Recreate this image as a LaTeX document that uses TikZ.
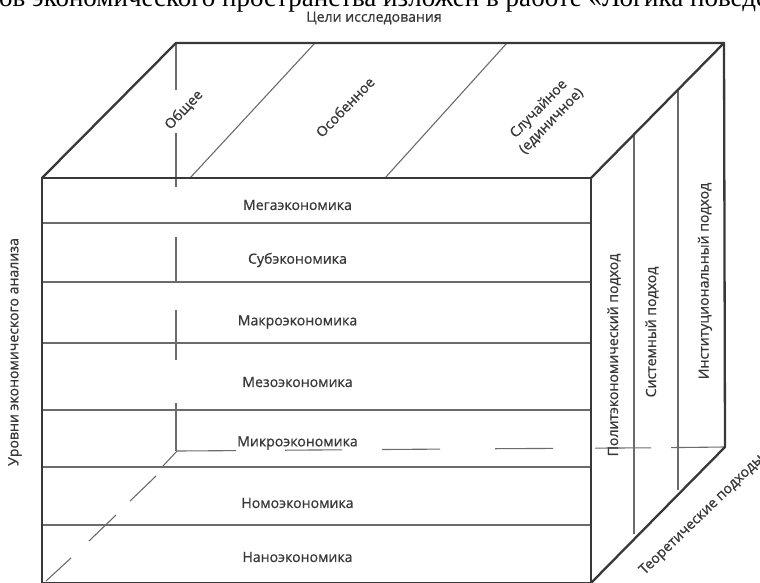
\documentclass[tikz,border=0pt]{standalone}
\usepackage{fontspec}
\setmainfont{Open Sans}
\newfontfamily\labfont[FakeBold=0.8]{Open Sans}
\newfontfamily\serifcut{Liberation Serif}
\begin{document}
\begin{tikzpicture}[x=1pt,y=-1pt,
  edgeline/.style={line width=2.3pt, draw=black!78, line cap=round, line join=round},
  thinline/.style={line width=1.1pt, draw=black!58},
  hiddenline/.style={line width=1.1pt, draw=black!58},
  lab/.style={font=\labfont\fontsize{14.1}{17.5}\selectfont, text=black!78, inner sep=0pt},
]
\useasboundingbox (0,0) rectangle (760,582);
\clip (0,0) rectangle (760,582);

% cut-off line of the surrounding text
\node[anchor=base west, inner sep=0pt, font=\serifcut\fontsize{27}{30}\selectfont] (cut) at (-1,6.5)
  {ов экономического пространства изложен в работе «Логика поведения};

\node[lab] (title) at (374,18) {Цели исследования};

% cube corners
\coordinate (FTL) at (42,178);
\coordinate (FTR) at (591,178);
\coordinate (FBR) at (591,583);
\coordinate (FBL) at (42,583);
\coordinate (BTL) at (176,43);
\coordinate (BTR) at (724,43);
\coordinate (BBR) at (725,447);
\coordinate (BBL) at (177,451);

% row dividers
\foreach \yy in {223,282,343,410,467,525}
  \draw[thinline] (42,\yy) -- (591,\yy);

% top face dividers
\draw[thinline] (190,178) -- (315,43);
\draw[thinline] (385,178) -- (507,43);

% right face dividers
\draw[thinline] (634,134.4) -- (634,534);
\draw[thinline] (678,89.7) -- (678,490);

% hidden edges
\foreach \a/\b in {43/90,133/187,237/282,310/360,403/451}
  \draw[hiddenline] (176,\a) -- (176,\b);
\draw[hiddenline] (177,451) -- (236,450.6);
\draw[hiddenline] (285,450.2) -- (342,449.8);
\draw[hiddenline] (382,449.5) -- (440,449.1);
\draw[hiddenline] (495,448.7) -- (553,448.4);
\draw[hiddenline] (595,448.1) -- (651,447.8);
\draw[hiddenline] (671,447.6) -- (BBR);
\draw[hiddenline] (BBL) -- (163,466);
\draw[hiddenline] (156,476) -- (130,501);
\draw[hiddenline] (116,515) -- (89,541);
\draw[hiddenline] (71,558) -- (46,581);

% visible edges
\draw[edgeline] (FTL) rectangle (FBR);
\draw[edgeline] (FTL) -- (BTL) -- (BTR) -- (FTR);
\draw[edgeline] (BTR) -- (BBR) -- (FBR);

% row labels
\node[lab] (mega)  at (297.5,205) {Мегаэкономика};
\node[lab] (sub)   at (297.5,260) {Субэкономика};
\node[lab] (macro) at (297.5,322) {Макроэкономика};
\node[lab] (meso)  at (297.5,382) {Мезоэкономика};
\node[lab] (micro) at (297.5,443) {Микроэкономика};
\node[lab] (nomo)  at (297.5,503) {Номоэкономика};
\node[lab] (nano)  at (297.5,557) {Наноэкономика};

% axis labels
\node[lab, rotate=90] (levels) at (15,352) {Уровни экономического анализа};
\node[lab, rotate=90] (polit) at (614,355) {Политэкономический подход};
\node[lab, rotate=90] (sys) at (652,332) {Системный подход};
\node[lab, rotate=90] (inst) at (705,281) {Институциональный подход};
\node[lab, rotate=44] (theo) at (702,515) {Теоретические подходы};

% top face labels
\node[lab, rotate=47] (gen) at (184,110) {Общее};
\node[lab, rotate=46] (spec) at (345,107) {Особенное};
\node[lab, rotate=46, align=center] (rand) at (545,115) {Случайное\\(единичное)};
\end{tikzpicture}
\end{document}
